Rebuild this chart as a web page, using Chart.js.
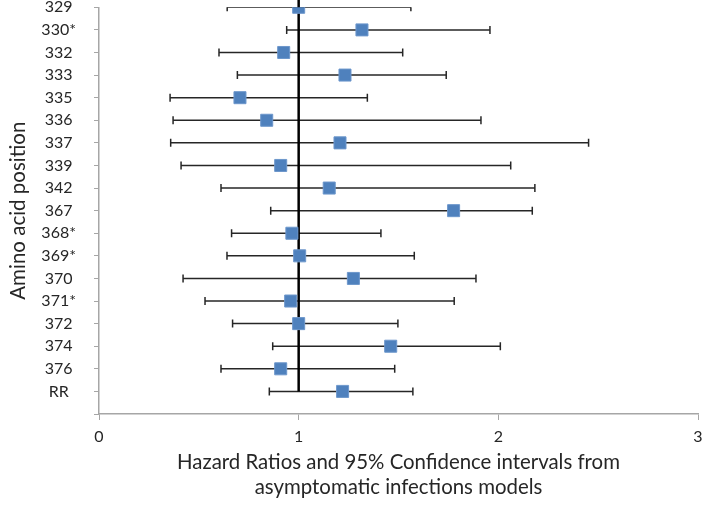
<!DOCTYPE html>
<html>
<head>
<meta charset="utf-8">
<script src="https://cdn.jsdelivr.net/npm/chart.js@4"></script>
<style>
  html, body { margin: 0; padding: 0; background: #fff; }
  #wrap { width: 704px; height: 506px; }
</style>
</head>
<body>
<div id="wrap"><canvas id="forestChart"></canvas></div>
<script>
// Amino acid positions, top to bottom
const positions = ["329", "330*", "332", "333", "335", "336", "337", "339", "342",
  "367", "368*", "369*", "370", "371*", "372", "374", "376", "RR"];
// Hazard ratios and 95% CI bounds
const hazardRatios = [1.0, 1.317, 0.925, 1.232, 0.706, 0.84, 1.207, 0.91, 1.153,
  1.776, 0.966, 1.005, 1.274, 0.96, 1.0, 1.461, 0.91, 1.22];
const lowerCI = [0.642, 0.94, 0.601, 0.693, 0.356, 0.371, 0.359, 0.411, 0.611,
  0.86, 0.664, 0.641, 0.421, 0.531, 0.669, 0.87, 0.611, 0.853];
const upperCI = [1.562, 1.958, 1.521, 1.739, 1.344, 1.913, 2.452, 2.062, 2.183,
  2.17, 1.412, 1.579, 1.888, 1.779, 1.497, 2.01, 1.481, 1.572];
const xTicks = [0, 1, 2, 3];

const FONT = "Lato";
const TEXT = "#262626";
const AXIS = "#a6a6a6";

// row position on the y axis: first label on top
const rowY = (i) => positions.length - i;

// one small line dataset per row for the error bar (caps drawn as rotated line points)
const errorBars = positions.map((p, i) => ({
  type: "line",
  data: [
    { x: lowerCI[i], y: rowY(i) },
    { x: upperCI[i], y: rowY(i) },
  ],
  borderColor: "#262626",
  borderWidth: 1.5,
  pointStyle: "line",
  rotation: 90,
  pointRadius: 4,
  pointBorderWidth: 1.5,
  pointBorderColor: "#262626",
  order: 3,
}));

const ctx = document.getElementById("forestChart").getContext("2d");
new Chart(ctx, {
  type: "scatter",
  data: {
    datasets: [
      {
        label: "Hazard ratio",
        data: hazardRatios.map((hr, i) => ({ x: hr, y: rowY(i) })),
        pointStyle: "rect",
        pointRadius: 8.5,
        backgroundColor: "#4f81bd",
        borderColor: "#6d97cc",
        borderWidth: 1,
        order: 0,
      },
      {
        // reference line at HR = 1
        type: "line",
        data: [
          { x: 1, y: 1 },
          { x: 1, y: positions.length + 0.35 },
        ],
        borderColor: "#000",
        borderWidth: 2.5,
        pointRadius: 0,
        clip: false,
        order: 1,
      },
      ...errorBars,
    ],
  },
  options: {
    responsive: true,
    maintainAspectRatio: false,
    animation: false,
    layout: { autoPadding: false, padding: { top: 0, right: 0, bottom: 7, left: 6 } },
    plugins: { legend: { display: false }, tooltip: { enabled: false } },
    scales: {
      x: {
        type: "linear",
        min: 0,
        max: 3,
        afterBuildTicks: (axis) => {
          axis.ticks = xTicks.map((v) => ({ value: v }));
        },
        afterFit: (scale) => {
          scale.paddingLeft = 0;
          scale.paddingRight = 6;
          scale.height = 85;
        },
        grid: {
          drawOnChartArea: false,
          color: AXIS,
          tickLength: 6,
        },
        border: { color: AXIS, width: 1.5 },
        ticks: {
          color: TEXT,
          font: { family: FONT, size: 16 },
          padding: 7,
        },
        title: {
          display: true,
          text: [
            "Hazard Ratios and 95% Confidence intervals from",
            "asymptomatic infections models",
          ],
          color: TEXT,
          font: { family: FONT, size: 20.4, lineHeight: 1.18 },
          padding: { top: 5, bottom: 0 },
        },
      },
      y: {
        type: "linear",
        min: 0,
        max: positions.length,
        afterFit: (scale) => {
          // keep the top row right at the upper edge, as in the picture
          scale.paddingTop = 7.3;
          scale.paddingBottom = 7;
          scale.width = 93;
        },
        ticks: {
          stepSize: 1,
          autoSkip: false,
          color: TEXT,
          font: { family: FONT, size: 16, lineHeight: 0.9 },
          crossAlign: "center",
          padding: 18,
          callback: (v) => (v >= 1 ? positions[positions.length - v] : ""),
        },
        grid: {
          drawOnChartArea: false,
          color: AXIS,
          tickLength: 5,
        },
        border: { color: AXIS, width: 1.5 },
        title: {
          display: true,
          text: "Amino acid position",
          color: TEXT,
          font: { family: FONT, size: 20.5 },
          padding: { top: 0, bottom: 0 },
        },
      },
    },
  },
});
</script>
</body>
</html>
